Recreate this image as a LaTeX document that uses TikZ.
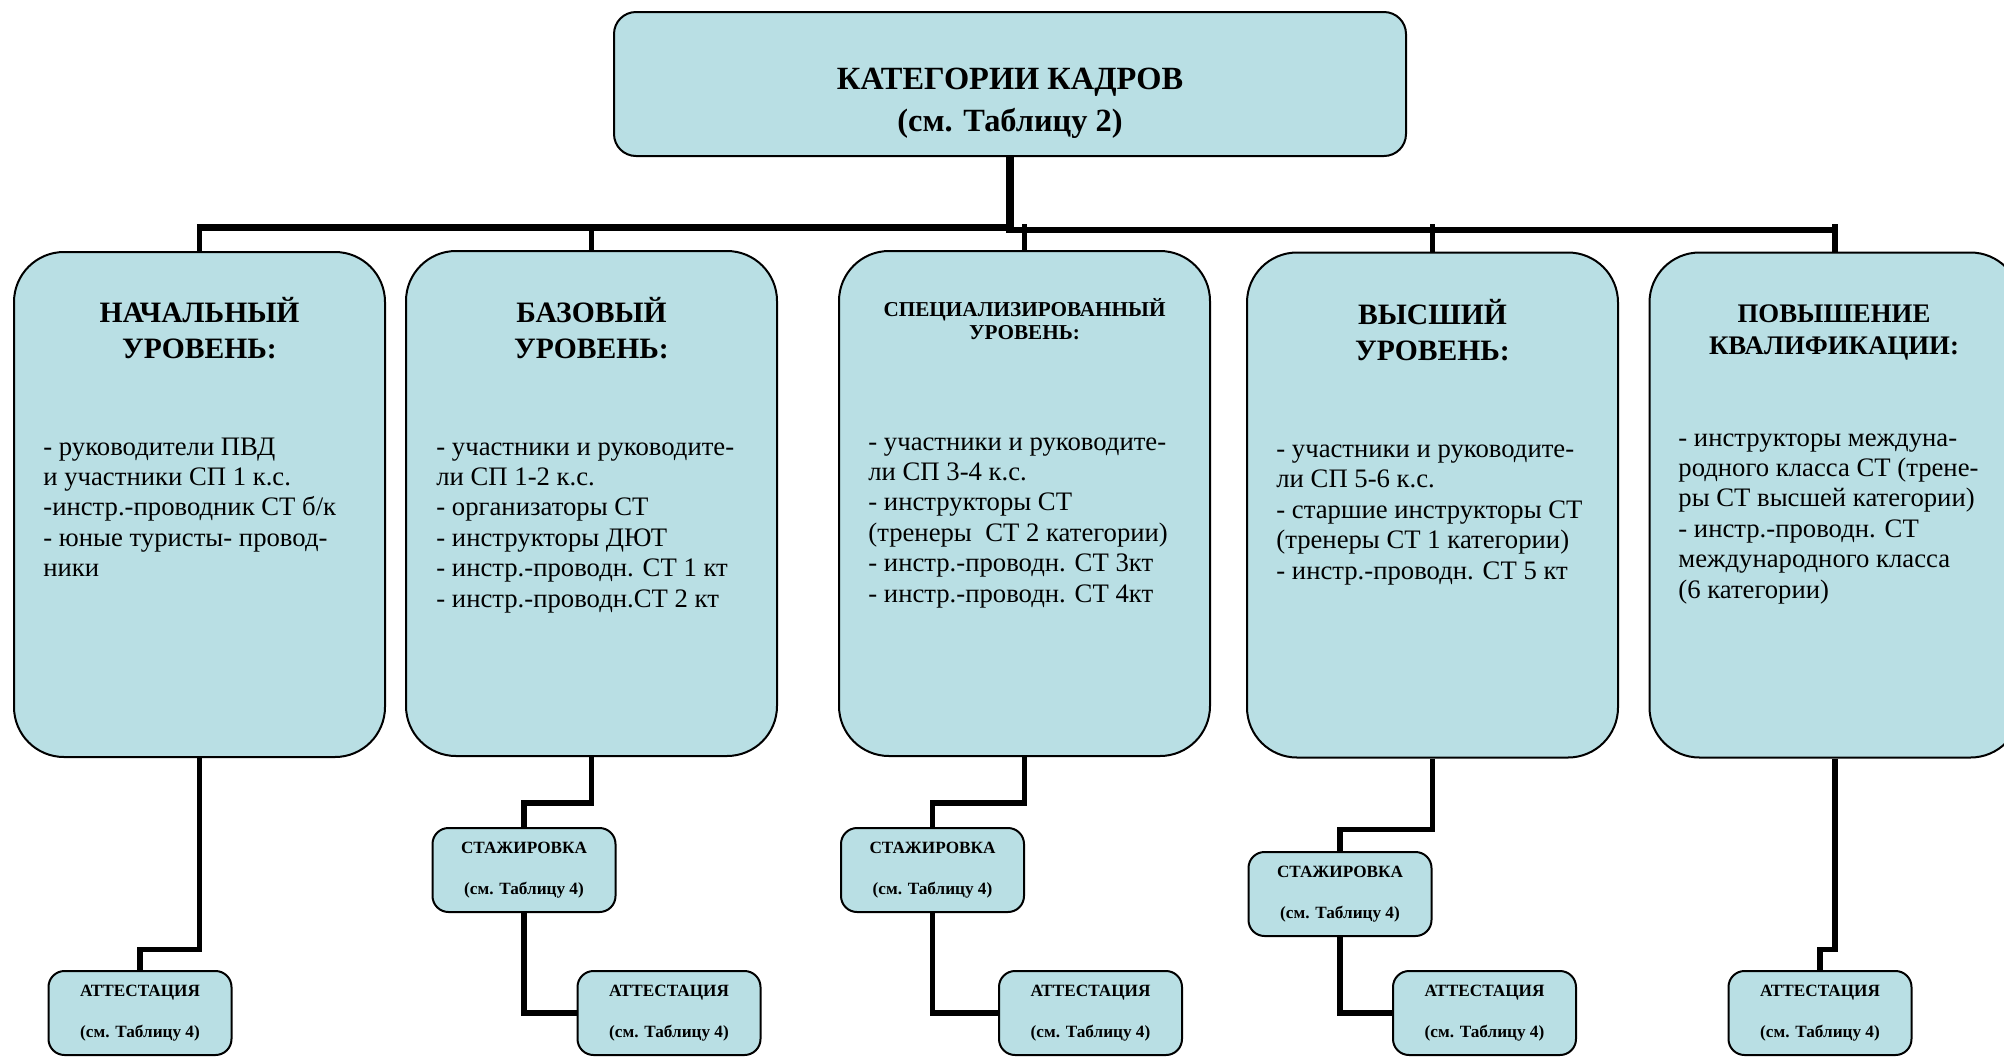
\documentclass[tikz,border=0pt]{standalone}
\usepackage{fontspec}
\setmainfont{Liberation Serif}
\definecolor{boxfill}{RGB}{185,223,228}
\tikzset{
  lvl/.style={draw, fill=boxfill, rounded corners=25pt, line width=1pt, minimum width=185.5pt, minimum height=252.5pt, inner sep=0pt},
  topbox/.style={draw, fill=boxfill, rounded corners=11pt, line width=1pt, minimum width=396pt, minimum height=72pt, inner sep=0pt},
  smallbox/.style={draw, fill=boxfill, rounded corners=8pt, line width=1pt, minimum width=91.5pt, minimum height=42pt, inner sep=0pt, align=center, font=\bfseries\fontsize{8.6}{20.5}\selectfont},
  ttl/.style={anchor=base, align=center, inner sep=0pt, font=\bfseries\fontsize{14.8}{17.9}\selectfont},
  ttlmid/.style={anchor=base, align=center, inner sep=0pt, font=\bfseries\fontsize{13.4}{16}\selectfont},
  ttlsmall/.style={anchor=base, align=center, inner sep=0pt, font=\bfseries\fontsize{10.6}{11.5}\selectfont},
  body/.style={anchor=base west, align=left, inner sep=0pt, font=\fontsize{13.35}{15.2}\selectfont},
  conn/.style={line width=2.6pt, line join=miter},
}
\begin{document}
\begin{tikzpicture}[x=0.5pt,y=-0.5pt]
\useasboundingbox (0,0) rectangle (2004,1056);
\clip (0,0) rectangle (2004,1056);
\fill[white] (0,0) rectangle (2004,1056);

% top box (text anchors: baseline of the last line)
\node[topbox] (top) at (1010,84) {};
\node[anchor=base, align=center, inner sep=0pt, font=\bfseries\fontsize{16.2}{21}\selectfont] (toptxt) at (1010,131) {КАТЕГОРИИ КАДРОВ\\(см. Таблицу 2)};

% level boxes
\node[lvl] (b1) at (199.5,504.5) {};
\node[lvl] (b2) at (591.5,503.5) {};
\node[lvl] (b3) at (1024.5,503.5) {};
\node[lvl] (b4) at (1432.5,505) {};
\node[lvl] (b5) at (1835,505) {};

\node[ttl] (t1) at (199.5,358) {НАЧАЛЬНЫЙ\\УРОВЕНЬ:};
\node[ttl] (t2) at (591.5,358) {БАЗОВЫЙ\\УРОВЕНЬ:};
\node[ttlsmall] (t3) at (1024.5,339) {СПЕЦИАЛИЗИРОВАННЫЙ\\УРОВЕНЬ:};
\node[ttl] (t4) at (1432.5,360) {ВЫСШИЙ\\УРОВЕНЬ:};
\node[ttlmid] (t5) at (1834,354) {ПОВЫШЕНИЕ\\КВАЛИФИКАЦИИ:};

\node[body] (d1) at (43,576.6) {- руководители ПВД\\и участники СП 1 к.с.\\-инстр.-проводник СТ б/к\\- юные туристы- провод-\\ники};
\node[body] (d2) at (436,607) {- участники и руководите-\\ли СП 1-2 к.с.\\- организаторы СТ\\- инструкторы ДЮТ\\- инстр.-проводн. СТ 1 кт\\- инстр.-проводн.СТ 2 кт};
\node[body] (d3) at (868,602) {- участники и руководите-\\ли СП 3-4 к.с.\\- инструкторы СТ\\(тренеры\ \ СТ 2 категории)\\- инстр.-проводн. СТ 3кт\\- инстр.-проводн. СТ 4кт};
\node[body] (d4) at (1276,579) {- участники и руководите-\\ли СП 5-6 к.с.\\- старшие инструкторы СТ\\(тренеры СТ 1 категории)\\- инстр.-проводн. СТ 5 кт};
\node[body] (d5) at (1678,598) {- инструкторы междуна-\\родного класса СТ (трене-\\ры СТ высшей категории)\\- инстр.-проводн. СТ\\международного класса\\(6 категории)};

% small boxes
\node[smallbox] (s2) at (524,870) {СТАЖИРОВКА\\(см. Таблицу 4)};
\node[smallbox] (s3) at (932.5,870) {СТАЖИРОВКА\\(см. Таблицу 4)};
\node[smallbox] (s4) at (1340,894) {СТАЖИРОВКА\\(см. Таблицу 4)};
\node[smallbox] (a1) at (140,1013) {АТТЕСТАЦИЯ\\(см. Таблицу 4)};
\node[smallbox] (a2) at (669,1013) {АТТЕСТАЦИЯ\\(см. Таблицу 4)};
\node[smallbox] (a3) at (1090.5,1013) {АТТЕСТАЦИЯ\\(см. Таблицу 4)};
\node[smallbox] (a4) at (1484.5,1013) {АТТЕСТАЦИЯ\\(см. Таблицу 4)};
\node[smallbox] (a5) at (1820,1013) {АТТЕСТАЦИЯ\\(см. Таблицу 4)};

% top connectors
\coordinate (stemend) at (1010,233);
\coordinate (bartop) at (0,224);
\coordinate (barL1) at (196.9,227.5);
\coordinate (barL2) at (1014,227.5);
\coordinate (barR1) at (1007,230);
\coordinate (barR2) at (1837.6,230);
\draw[line width=4pt] (top.south) -- (top.south |- stemend);
\draw[line width=3.25pt] (barL1) -- (barL2);
\draw[line width=3pt] (barR1) -- (barR2);
\foreach \b in {b1,b2,b3,b4,b5}{
  \draw[conn] (\b.north) -- (\b.north |- bartop);
}

% lower connectors
\draw[conn] (b1.south) -- ++(0,191.5) -| (a1.north);
\draw[conn] (b2.south) -- ++(0,46) -| (s2.north);
\draw[conn] (b3.south) -- ++(0,46) -| (s3.north);
\draw[conn] (b4.south) -- ++(0,71) -| (s4.north);
\draw[conn] (b5.south) -- ++(0,191) -| (a5.north);
\draw[conn] (s2.south) |- (a2.west);
\draw[conn] (s3.south) |- (a3.west);
\draw[conn] (s4.south) |- (a4.west);
\end{tikzpicture}
\end{document}
